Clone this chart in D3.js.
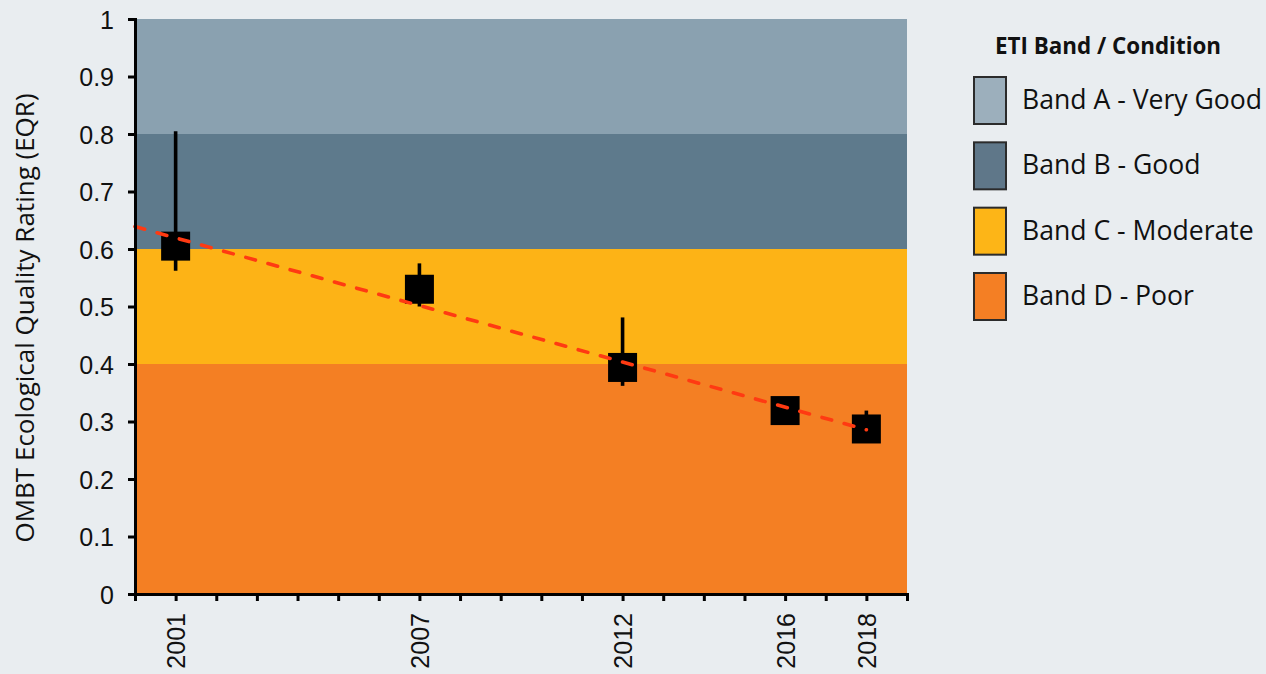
<!DOCTYPE html>
<html>
<head>
<meta charset="utf-8">
<script src="https://cdn.jsdelivr.net/npm/d3@7"></script>
<style>
  html, body { margin: 0; padding: 0; background: #e9edf0; }
  svg { display: block; }
</style>
</head>
<body>
<svg id="chart" width="1266" height="674"></svg>
<script>
// Survey years and mean EQR with error-bar limits
const years = [2001, 2007, 2012, 2016, 2018];
const eqr = [0.605, 0.530, 0.394, 0.319, 0.287];
const errHigh = [0.805, 0.575, 0.481, 0.319, 0.319];
const errLow = [0.562, 0.500, 0.362, 0.319, 0.287];

// ETI condition bands (lower, upper EQR)
const bandNames = ["Band A - Very Good", "Band B - Good", "Band C - Moderate", "Band D - Poor"];
const bandLow = [0.8, 0.6, 0.4, 0.0];
const bandHigh = [1.0, 0.8, 0.6, 0.4];
const bandFill = ["#8aa1b0", "#5e7a8c", "#fdb316", "#f47f23"];
const bandSwatch = ["#9cafbc", "#5f7789", "#fdb517", "#f47f24"];

const yTicks = [0, 0.1, 0.2, 0.3, 0.4, 0.5, 0.6, 0.7, 0.8, 0.9, 1];
const yTickLabels = ["0", "0.1", "0.2", "0.3", "0.4", "0.5", "0.6", "0.7", "0.8", "0.9", "1"];

const svg = d3.select("#chart");
const plotLeft = 135, plotRight = 907, plotTop = 19, plotBottom = 594;

const x = d3.scaleLinear().domain([2000, 2019]).range([plotLeft, plotRight]);
const y = d3.scaleLinear().domain([0, 1]).range([plotBottom, plotTop]);

// condition bands
svg.append("g").selectAll("rect")
  .data(bandNames)
  .join("rect")
  .attr("x", plotLeft)
  .attr("width", plotRight - plotLeft)
  .attr("y", (d, i) => y(bandHigh[i]))
  .attr("height", (d, i) => y(bandLow[i]) - y(bandHigh[i]))
  .attr("fill", (d, i) => bandFill[i]);

// least-squares trend through the survey means, drawn from 2000 to 2018
const mx = d3.mean(years), my = d3.mean(eqr);
const slope = d3.sum(years, (v, i) => (v - mx) * (eqr[i] - my)) / d3.sum(years, v => (v - mx) ** 2);
const trendYears = [2000, 2018];
const trendLine = d3.line().x(d => x(d)).y(d => y(my + slope * (d - mx)));

// error bars
svg.append("g").selectAll("line")
  .data(years)
  .join("line")
  .attr("x1", d => x(d)).attr("x2", d => x(d))
  .attr("y1", (d, i) => y(errHigh[i]))
  .attr("y2", (d, i) => y(errLow[i]))
  .attr("stroke", "#000")
  .attr("stroke-width", 3.6);

// mean markers
const sq = 29;
svg.append("g").selectAll("rect")
  .data(years)
  .join("rect")
  .attr("x", d => x(d) - sq / 2)
  .attr("y", (d, i) => y(eqr[i]) - sq / 2)
  .attr("width", sq).attr("height", sq)
  .attr("fill", "#000");

svg.append("path")
  .datum(trendYears)
  .attr("d", trendLine)
  .attr("fill", "none")
  .attr("stroke", "#ff3a12")
  .attr("stroke-width", 3.6)
  .attr("stroke-linecap", "round")
  .attr("stroke-dasharray", "10,13");

// axes
const yAxis = d3.axisLeft(y)
  .tickValues(yTicks)
  .tickFormat((d, i) => yTickLabels[i])
  .tickSize(7).tickPadding(14);
const gy = svg.append("g").attr("transform", `translate(${plotLeft},0)`).call(yAxis);

const xAxis = d3.axisBottom(x)
  .tickValues(d3.range(2000, 2020))
  .tickFormat(d => years.includes(d) ? String(d) : "")
  .tickSize(7).tickPadding(12);
const gx = svg.append("g").attr("transform", `translate(0,${plotBottom})`).call(xAxis);

[gx, gy].forEach(g => {
  g.select(".domain").attr("stroke", "#000").attr("stroke-width", 3);
  g.selectAll(".tick line").attr("stroke", "#000").attr("stroke-width", 3);
  g.selectAll("text")
    .attr("fill", "#111")
    .style("font-family", "'Liberation Sans', Arial, sans-serif")
    .style("font-size", "25px");
});
gy.selectAll("text").attr("dy", "0.36em");
gx.selectAll(".tick text")
  .attr("transform", "rotate(-90)")
  .attr("text-anchor", "end")
  .attr("x", -19)
  .attr("y", 0)
  .attr("dy", "0.36em");

// y axis title
svg.append("text")
  .attr("transform", "translate(34,318) rotate(-90)")
  .attr("text-anchor", "middle")
  .style("font-family", "'Open Sans', sans-serif")
  .style("font-size", "26px")
  .attr("fill", "#111")
  .text("OMBT Ecological Quality Rating (EQR)");

// legend
const legend = svg.append("g");
legend.append("text")
  .attr("x", 995).attr("y", 54)
  .style("font-family", "'Open Sans', sans-serif")
  .style("font-weight", "bold")
  .style("font-size", "22.4px")
  .attr("fill", "#111")
  .text("ETI Band / Condition");

const rowY = d3.scaleLinear().domain([0, 3]).range([77, 273]);
const rows = legend.selectAll("g.row")
  .data(bandNames)
  .join("g")
  .attr("class", "row")
  .attr("transform", (d, i) => `translate(974,${rowY(i)})`);
rows.append("rect")
  .attr("width", 32).attr("height", 47)
  .attr("fill", (d, i) => bandSwatch[i])
  .attr("stroke", "#2b2b2b")
  .attr("stroke-width", 2);
rows.append("text")
  .attr("x", 48).attr("y", 32)
  .style("font-family", "'Open Sans', sans-serif")
  .style("font-size", "26.6px")
  .attr("fill", "#111")
  .text(d => d);
</script>
</body>
</html>
